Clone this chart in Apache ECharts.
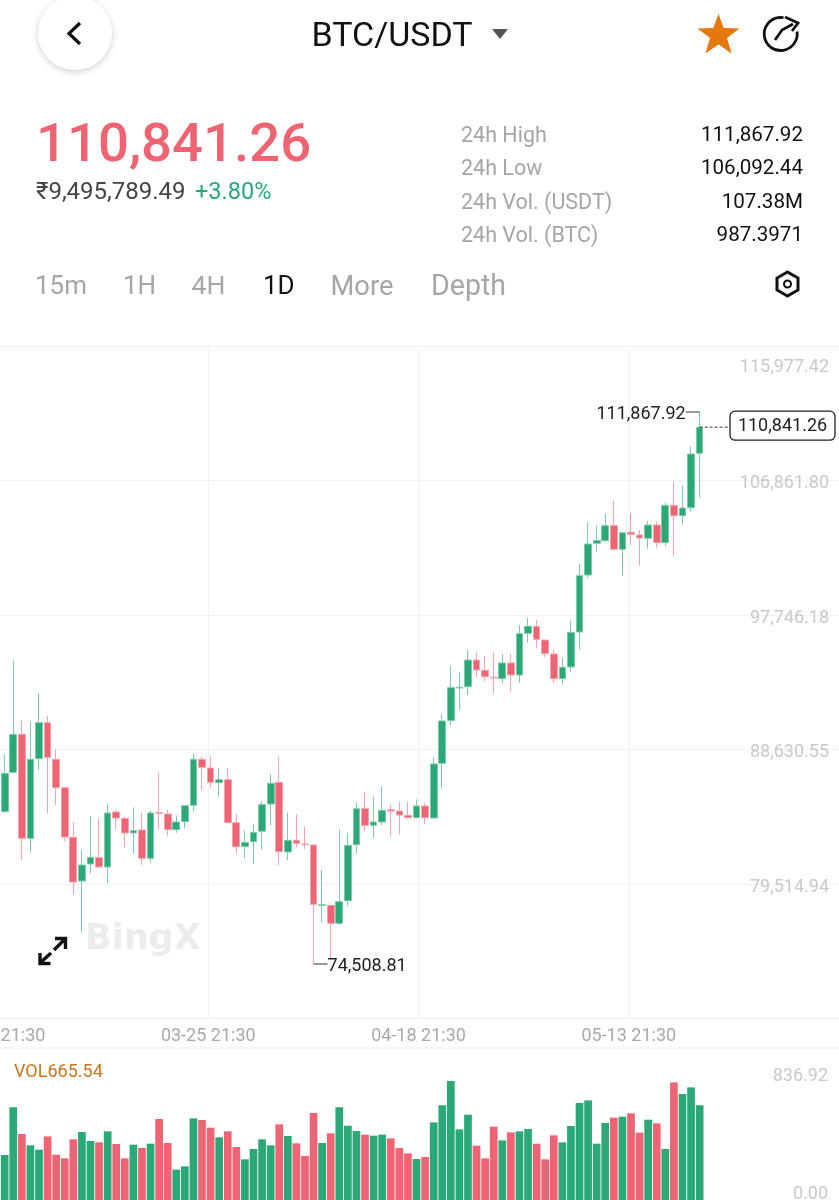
<!DOCTYPE html>
<html><head><meta charset="utf-8">
<style>html,body{margin:0;padding:0;background:#fff}#c{width:839px;height:1200px}</style>
<script src="https://cdn.jsdelivr.net/npm/echarts@6/dist/echarts.min.js"></script>
</head><body><div id="c"></div>
<script>
// [open, close, low, high]
const candles = [
[84819,87413,84751,88699],[87481,90053,87413,95038],[90053,83014,81547,91023],[83014,88361,82066,90932],
[88406,90842,87639,92827],[90842,88496,84706,91293],[88361,86443,85270,89037],[86443,83104,82833,86488],
[83081,80058,79224,84097],[80126,81209,76652,82202],[81277,81728,80645,84480],[81705,81074,81006,84345],
[81074,84728,79968,85315],[84796,84390,83623,84931],[84367,83375,82405,84480],[83375,83533,81999,85112],
[83578,81660,81209,84751],[81660,84728,81322,84886],[84751,84706,83623,87458],[84661,83600,83194,84931],
[83600,84119,83397,84570],[84142,85225,83691,85270],[85247,88361,84819,88767],[88361,87819,86330,88541],
[87774,86804,86443,88541],[86781,86984,85834,87751],[86984,84074,84029,87751],[84074,82450,81999,84661],
[82450,82743,81660,83533],[82788,83420,81322,83961],[83488,85292,82269,85495],[85337,86736,83916,87345],
[86804,82111,81209,88541],[82089,82878,81547,84751],[82878,82675,82405,84638],[82630,82585,82269,83803],
[82563,78547,74508.81,82563],[78479,78524,77306,80871],[78479,77261,74937,78479],[77261,78727,77148,83623],
[78795,82540,78457,83352],[82585,85022,81999,85428],[85022,83894,83510,86127],[83894,84119,83059,85834],
[84119,84909,83894,86511],[84954,84864,83127,85315],[84864,84593,83285,85495],[84570,84413,84367,85495],
[84413,85202,84367,85653],[85202,84413,83984,85383],[84390,88045,84367,88496],[88090,90955,86398,91429],
[90977,93211,90662,94677],[93189,93234,91699,94249],[93279,95083,92715,95760],[95083,94407,93933,95580],
[94384,93955,93640,95354],[93910,93865,92827,95602],[93820,94880,93482,95489],[94880,94068,92940,95489],
[94068,96866,93549,97452],[96888,97362,96257,97949],[97362,96482,95918,97791],[96437,95512,95264,96437],
[95489,93820,93527,95760],[93820,94587,93437,95241],[94610,96956,94249,97745],[96978,100791,95805,101581],
[100836,102934,100656,104401],[102979,103182,102370,104153],[103160,104175,103070,105010],[104175,102573,102506,105867],
[102573,103701,100791,103701],[103724,103589,102889,105010],[103544,103341,101468,103882],[103318,104220,102618,104491],
[104220,103025,102686,104446],[103025,105551,102821,105732],[105551,104852,102122,107153],[104852,105371,104265,106882],
[105393,109025,105123,109522],[109070,110841.26,106092.44,111867.92]
];
const volumes = [316.4,651.5,464.1,384.4,354,447.6,318.8,293,426.6,478.1,414.9,405.5,482.8,393.8,293,389.1,365.7,396.1,569.5,400.8,213.4,236.8,574.2,562.5,508.6,440.6,482.8,372.7,286,358.6,426.6,384.4,532,
450,398.5,309.4,611.7,400.8,468.8,651.5,522.6,485.2,459.4,452.4,459.4,433.6,365.7,328.2,288.3,302.4,546,665.6,836.92,496.9,600,382,293,515.6,419.5,475.8,482.8,499.2,396.1,286,
454.7,405.5,520.3,681.9,700.7,396.1,541.4,578.9,585.9,609.3,473.4,564.8,539,358.6,827.2,745.2,792,665.54];
const slotCount = 98;
const timeLabels = ['03-01 21:30','03-25 21:30','04-18 21:30','05-13 21:30',''];
const priceTicks = [79514.94,88630.55,97746.18,106861.80,115977.42];
const volumeTicks = [0,836.92];
const stats = [['24h High','111,867.92'],['24h Low','106,092.44'],['24h Vol. (USDT)','107.38M'],['24h Vol. (BTC)','987.3971']];
const periods = [['15m',35,26],['1H',123,26],['4H',191.5,26.5],['1D',263,26],['More',330.5,27.3],['Depth',431,28.6]];
const highValue = 111867.92, lowValue = 74508.81, lastValue = 110841.26;

const GREEN='#2aa876', RED='#ef6475', GREENW='#7fc8ac', REDW='#f2a3ac';
const FONT='Roboto';
const fmt=v=>v.toLocaleString('en-US',{minimumFractionDigits:2,maximumFractionDigits:2});
const slots=Array.from({length:slotCount},(_,i)=>String(i));
const chart=echarts.init(document.getElementById('c'),null,{renderer:'canvas'});
const tickStyle={color:'#c9c9c9',fontFamily:FONT,fontSize:18};
chart.setOption({
 animation:false,backgroundColor:'#fff',
 grid:[
  {left:0.4,width:840.8,top:346,height:672,outerBoundsMode:'none'},
  {left:-2,width:841,top:346,height:672,outerBoundsMode:'none'},
  {left:0.4,width:840.8,top:1081,height:119,outerBoundsMode:'none'},
  {left:0,right:0,top:1076,height:118,outerBoundsMode:'none'}
 ],
 xAxis:[
  {gridIndex:0,type:'category',data:slots,show:false},
  {gridIndex:1,type:'category',data:timeLabels,boundaryGap:false,
   axisLine:{show:true,lineStyle:{color:'#efefef',width:1}},axisTick:{show:false},
   axisLabel:{interval:0,margin:9,color:'#a9a9a9',fontFamily:FONT,fontSize:18,hideOverlap:false,showMinLabel:true,showMaxLabel:true},
   splitLine:{show:true,interval:0,lineStyle:{color:'#f2f2f2',width:1}}},
  {gridIndex:2,type:'category',data:slots,show:false},
  {gridIndex:3,type:'category',data:timeLabels,show:false}
 ],
 yAxis:[
  {gridIndex:0,type:'value',min:70854,max:116335,show:false},
  {gridIndex:1,type:'value',position:'right',min:70440,max:115977.42,
   axisLine:{show:false},axisTick:{show:false,customValues:priceTicks},
   splitLine:{show:true,lineStyle:{color:'#f2f2f2',width:1}},
   axisLabel:{customValues:priceTicks,inside:true,margin:10,
    formatter:v=>v===115977.42?`{top|${fmt(v)}}`:`{mid|${fmt(v)}}`,
    rich:{top:{...tickStyle,padding:[42,0,0,0]},mid:{...tickStyle,padding:[6,0,0,0]}}}},
  {gridIndex:2,type:'value',min:0,max:836.92,show:false},
  {gridIndex:3,type:'value',position:'right',min:0,max:836.92,
   axisLine:{show:false},axisTick:{show:false,customValues:volumeTicks},splitLine:{show:false},
   axisLabel:{customValues:volumeTicks,inside:true,margin:11,formatter:v=>fmt(v),...tickStyle}}
 ],
 series:[
  {type:'candlestick',xAxisIndex:0,yAxisIndex:0,data:candles,barWidth:7.2,z:3,
   itemStyle:{color:GREEN,color0:RED,borderColor:GREENW,borderColor0:REDW,borderWidth:1}},
  {type:'bar',xAxisIndex:2,yAxisIndex:2,barWidth:7.7,z:3,
   data:volumes.map((v,i)=>({value:v,itemStyle:{color:candles[i][1]>=candles[i][0]?GREEN:RED}}))}
 ]
});

const hi=chart.convertToPixel({xAxisIndex:0,yAxisIndex:0},[81,highValue]);
const lo=chart.convertToPixel({xAxisIndex:0,yAxisIndex:0},[36,lowValue]);
const la=chart.convertToPixel({xAxisIndex:0,yAxisIndex:0},[81,lastValue]);
const T=(text,x,y,size,fill,o={})=>({type:'text',silent:true,z:o.z||10,style:{text,x,y:y+size*0.1,fill,fontFamily:o.font||FONT,fontSize:size,fontWeight:o.weight||400,textAlign:o.align||'left',textVerticalAlign:'middle'}});
const L=(points,stroke,w,o={})=>({type:'polyline',silent:true,z:10,shape:{points},style:{stroke,lineWidth:w,fill:null,lineCap:o.cap||'butt',lineJoin:o.join||'miter',lineDash:o.dash}});
const g=[];
// header
g.push({type:'circle',z:8,silent:true,shape:{cx:75,cy:33,r:37},style:{fill:'#fff',shadowBlur:7,shadowColor:'rgba(0,0,0,0.18)',shadowOffsetY:2}});
g.push(L([[80,23],[69,33.5],[80,44]],'#111',3.2));
g.push(T('BTC/USDT',311.5,34,34,'#111'));
g.push({type:'polygon',silent:true,z:10,shape:{points:[[492,29],[508,29],[500,39]]},style:{fill:'#555'}});
g.push({type:'polygon',silent:true,z:10,shape:{points:[[718.5,14],[723.7,28],[739.5,28.6],[727,38],[731.6,53.5],[718.5,44.6],[705.4,53.5],[710,38],[697.5,28.6],[713.3,28]]},style:{fill:'#e5780c'}});
g.push({type:'arc',silent:true,z:10,shape:{cx:780.7,cy:34,r:16.5,startAngle:-0.15,endAngle:-1.4,clockwise:true},style:{stroke:'#111',lineWidth:2.8,fill:null}});
g.push(L([[775,40],[782,30],[793,24]],'#111',2.8));
g.push(L([[785,17],[798,23],[792,31]],'#111',2.8));
g.push(T('110,841.26',36,142,54.5,'#ee6473',{weight:500}));
g.push(T('₹9,495,789.49',36,191,24,'#444'));
g.push(T('+3.80%',195,191,23.5,'#2aa876'));
stats.forEach((r,i)=>{const y=[134,167,201,234][i];g.push(T(r[0],461,y,21.5,'#a6a6a6'));g.push(T(r[1],803,y,20.6,'#111',{align:'right'}));});
periods.forEach(p=>g.push(T(p[0],p[1],285,p[2],p[0]==='1D'?'#111':'#a6a6a6')));
g.push({type:'polygon',silent:true,z:10,shape:{points:[[787.5,272],[798,278],[798,290],[787.5,296],[777,290],[777,278]]},style:{stroke:'#111',lineWidth:3,fill:null}});
g.push({type:'circle',silent:true,z:10,shape:{cx:787.5,cy:284,r:3.5},style:{stroke:'#111',lineWidth:2,fill:null}});
// pane rule
g.push(L([[0,1048],[839,1048]],'#efefef',1));
// watermark and expand icon
g.push(T('BingX',85,936,35,'#ececec',{weight:700,font:'DejaVu Sans',z:1}));
g.push(L([[54,950],[65,939]],'#111',3.4));g.push(L([[55,938.5],[65.5,938.5],[65.5,949]],'#111',3.4));
g.push(L([[40,963],[51,953]],'#111',3.4));g.push(L([[40,953],[40,963.5],[50.5,963.5]],'#111',3.4));
// annotations bound to data
g.push(L([[hi[0]-14,hi[1]],[hi[0],hi[1]]],'#333',1));
g.push(T(fmt(highValue),hi[0]-14,hi[1]+1,18,'#222',{align:'right'}));
g.push(L([[lo[0],lo[1]],[lo[0]+14,lo[1]]],'#333',1));
g.push(T(fmt(lowValue),lo[0]+14,lo[1]+1,18,'#222'));
g.push(L([[la[0],la[1]],[730,la[1]]],'#333',1,{dash:[3,2]}));
g.push({type:'rect',silent:true,z:11,shape:{x:730,y:la[1]-16,width:105,height:29,r:5},style:{fill:'#fff',stroke:'#222',lineWidth:1.3}});
g.push({...T(fmt(lastValue),782.5,la[1]-2,18,'#222',{align:'center'}),z:12});
g.push(T('VOL665.54',14,1071,18,'#c9741e'));
chart.setOption({graphic:g});
</script></body></html>
